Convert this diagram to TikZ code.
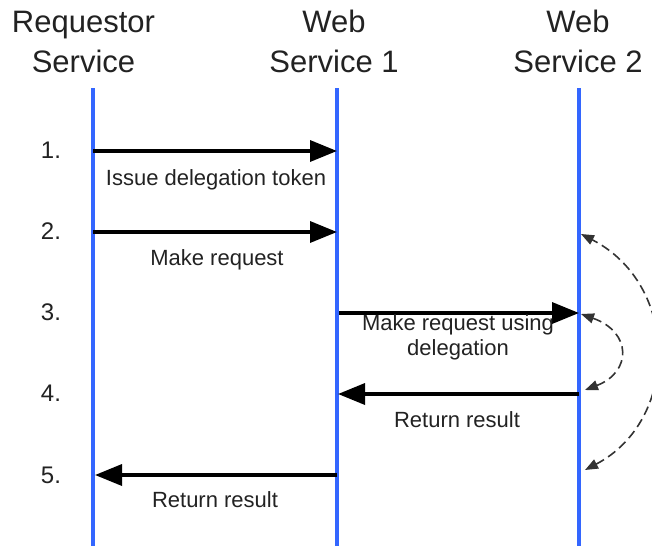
\documentclass[tikz,border=0pt]{standalone}
\usepackage{fontspec}
\setmainfont{Liberation Sans}
\usetikzlibrary{arrows.meta}
\definecolor{lifeblue}{RGB}{51,102,255}
\definecolor{txt}{RGB}{34,34,34}
\definecolor{dashgray}{RGB}{51,51,51}
\tikzset{
  header/.style={anchor=base, text=txt, font=\fontsize{31}{40}\selectfont, align=center, inner sep=0pt},
  lbl/.style={anchor=base, text=txt, font=\fontsize{22}{25}\selectfont, align=center, inner sep=0pt},
  stepnum/.style={anchor=base, text=txt, font=\fontsize{24}{26}\selectfont, inner sep=0pt},
  lifeline/.style={draw=lifeblue, line width=3.5pt},
  msg/.style={draw=black, line width=3.5pt, -{Triangle[length=27pt,width=21pt]}},
  dasharc/.style={draw=dashgray, line width=1.6pt, dash pattern=on 9pt off 5pt, {Triangle[length=13pt,width=10pt]}-{Triangle[length=13pt,width=10pt]}}
}
\begin{document}
\begin{tikzpicture}[x=1pt,y=-1pt]
\useasboundingbox (0,0) rectangle (652,546);
% headers
\node[header] (h1a) at (83.5,32) {Requestor};
\node[header] (h1b) at (83.5,72) {Service};
\node[header] (h2a) at (334,32) {Web};
\node[header] (h2b) at (334,72) {Service 1};
\node[header] (h3a) at (578,32) {Web};
\node[header] (h3b) at (578,72) {Service 2};
% lifelines
\coordinate (l1t) at (93,88);  \coordinate (l1b) at (93,546);
\coordinate (l2t) at (337,88); \coordinate (l2b) at (337,546);
\coordinate (l3t) at (579,88); \coordinate (l3b) at (579,546);
\draw[lifeline] (l1t) -- (l1b);
\draw[lifeline] (l2t) -- (l2b);
\draw[lifeline] (l3t) -- (l3b);
% step numbers
\node[stepnum] (s1) at (51,158) {1.};
\node[stepnum] (s2) at (51,239) {2.};
\node[stepnum] (s3) at (51,320) {3.};
\node[stepnum] (s4) at (51,401) {4.};
\node[stepnum] (s5) at (51,483) {5.};
% message endpoints
\coordinate (a1) at (93,151);  \coordinate (b1) at (337,151);
\coordinate (a2) at (93,232);  \coordinate (b2) at (337,232);
\coordinate (a3) at (339,313); \coordinate (b3) at (579,313);
\coordinate (a4) at (579,394); \coordinate (b4) at (338,394);
\coordinate (a5) at (337,475); \coordinate (b5) at (95,475);
\draw[msg] (a1) -- (b1);
\draw[msg] (a2) -- (b2);
\draw[msg] (a3) -- (b3);
\draw[msg] (a4) -- (b4);
\draw[msg] (a5) -- (b5);
% labels
\node[lbl] (t1) at (216,185) {Issue delegation token};
\node[lbl] (t2) at (217,265) {Make request};
\node[lbl] (t3a) at (458,330) {Make request using};
\node[lbl] (t3b) at (458,355) {delegation};
\node[lbl] (t4) at (457,427) {Return result};
\node[lbl] (t5) at (215,507) {Return result};
% dashed arcs
\coordinate (d1) at (581,234);
\coordinate (d2) at (581,314);
\coordinate (d3) at (585,390);
\coordinate (d4) at (585,470);
\draw[dasharc] (d3) .. controls (632,372) and (632,332) .. (d2);
\draw[dasharc] (d4) .. controls (680,420) and (680,285) .. (d1);
\end{tikzpicture}
\end{document}
